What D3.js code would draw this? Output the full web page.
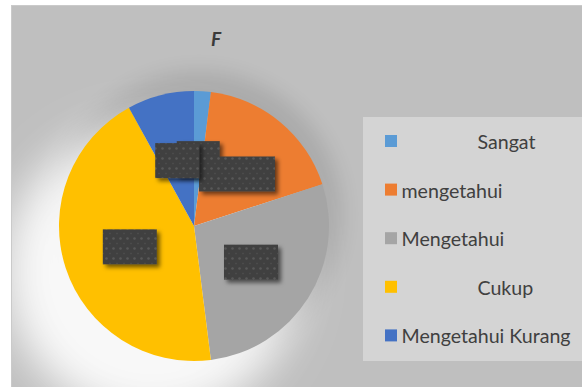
<!DOCTYPE html>
<html>
<head>
<meta charset="utf-8">
<script src="https://cdn.jsdelivr.net/npm/d3@7"></script>
<style>
  body { margin: 0; background: #fff; }
  svg { display: block; }
</style>
</head>
<body>
<svg id="chart"></svg>
<script>
// Data (percent of respondents)
const categories = ["Sangat mengetahui", "Mengetahui", "Cukup Mengetahui", "Kurang Mengetahui", "Tidak"];
const values = [2, 18, 28, 44, 8];
const legendLabels = ["Sangat", "mengetahui", "Mengetahui", "Cukup", "Mengetahui Kurang"];
const colors = ["#5B9BD5", "#ED7D31", "#A5A5A5", "#FFC000", "#4472C4"];
const titleText = "F";

const width = 582, height = 387;
const cx = 194, cy = 226, radius = 135;

// label box widths (the labels are hidden behind dark boxes)
const boxW = [43, 76, 54, 54, 44];
const boxH = 35;
// legend text indent (wrapped legend text)
const legendIndent = [76, 0, 0, 76, 0];

const svg = d3.select("#chart").attr("width", width).attr("height", height);
const defs = svg.append("defs");

// soft halo / shadow filters
defs.append("filter").attr("id", "blurBig").attr("x", "-50%").attr("y", "-50%").attr("width", "200%").attr("height", "200%")
  .append("feGaussianBlur").attr("stdDeviation", 22);
defs.append("filter").attr("id", "blurMid").attr("x", "-50%").attr("y", "-50%").attr("width", "200%").attr("height", "200%")
  .append("feGaussianBlur").attr("stdDeviation", 10);

const shadow = defs.append("filter").attr("id", "boxShadow")
  .attr("x", "-30%").attr("y", "-30%").attr("width", "160%").attr("height", "180%");
shadow.append("feDropShadow").attr("dx", 3).attr("dy", 3).attr("stdDeviation", 2.2)
  .attr("flood-color", "#000").attr("flood-opacity", 0.55);

// dotted texture of the label boxes
const pat = defs.append("pattern").attr("id", "dots").attr("patternUnits", "userSpaceOnUse")
  .attr("width", 7).attr("height", 10);
pat.append("rect").attr("width", 7).attr("height", 10).attr("fill", "#404040");
pat.append("circle").attr("cx", 3.5).attr("cy", 2.5).attr("r", 1.2).attr("fill", "#595959");
pat.append("circle").attr("cx", 0).attr("cy", 7.5).attr("r", 0.8).attr("fill", "#515151");
pat.append("circle").attr("cx", 7).attr("cy", 7.5).attr("r", 0.8).attr("fill", "#515151");

defs.append("clipPath").attr("id", "areaClip")
  .append("rect").attr("x", 12).attr("y", 6).attr("width", width).attr("height", height);

// chart area
svg.append("rect")
  .attr("x", 11.5).attr("y", 5.5)
  .attr("width", width).attr("height", height)
  .attr("fill", "#bfbfbf")
  .attr("stroke", "#cacaca");

const bg = svg.append("g").attr("clip-path", "url(#areaClip)");
// darker shadow above the pie
bg.append("circle")
  .attr("cx", cx + 5).attr("cy", cy - 12).attr("r", radius + 8)
  .attr("fill", "#000").attr("opacity", 0.1).attr("filter", "url(#blurMid)");
// white glow falling to the lower left
bg.append("circle")
  .attr("cx", cx - 42).attr("cy", cy + 45).attr("r", radius + 12)
  .attr("fill", "#fff").attr("opacity", 0.9).attr("filter", "url(#blurBig)");

// title
svg.append("text")
  .attr("x", 216).attr("y", 46)
  .attr("text-anchor", "middle")
  .attr("font-family", "Lato, 'Open Sans', sans-serif")
  .attr("font-size", 19).attr("font-weight", "bold").attr("font-style", "italic")
  .attr("fill", "#3a3a3a")
  .text(titleText);

// pie
const pie = d3.pie().sort(null).value(d => d);
const arc = d3.arc().innerRadius(0).outerRadius(radius);
const arcs = pie(values);

const g = svg.append("g").attr("transform", `translate(${cx},${cy})`);
g.selectAll("path.slice")
  .data(arcs)
  .enter()
  .append("path")
  .attr("class", "slice")
  .attr("d", arc)
  .attr("fill", (d, i) => colors[i]);

// data label boxes at the slice centroids
g.selectAll("rect.lbl")
  .data(arcs)
  .enter()
  .append("rect")
  .attr("class", "lbl")
  .attr("x", (d, i) => arc.centroid(d)[0] - boxW[i] / 2)
  .attr("y", d => arc.centroid(d)[1] - boxH / 2)
  .attr("width", (d, i) => boxW[i])
  .attr("height", boxH)
  .attr("fill", "url(#dots)")
  .attr("filter", "url(#boxShadow)");

// legend
const lgX = 363, lgY = 117;
svg.append("rect")
  .attr("x", lgX).attr("y", lgY)
  .attr("width", width - lgX + 5).attr("height", 244)
  .attr("fill", "#d4d4d4");

const legendY = d3.scalePoint()
  .domain(d3.range(legendLabels.length))
  .range([149, 343.4]);

const items = svg.selectAll("g.legend")
  .data(legendLabels)
  .enter()
  .append("g")
  .attr("class", "legend")
  .attr("transform", (d, i) => `translate(385,${legendY(i)})`);

items.append("rect")
  .attr("x", 0).attr("y", -14)
  .attr("width", 12).attr("height", 12)
  .attr("fill", (d, i) => colors[i]);

items.append("text")
  .attr("x", (d, i) => 16.5 + legendIndent[i])
  .attr("y", 0)
  .attr("font-family", "Lato, 'Open Sans', sans-serif")
  .attr("font-size", 19.6)
  .attr("fill", "#404040")
  .text(d => d);
</script>
</body>
</html>
